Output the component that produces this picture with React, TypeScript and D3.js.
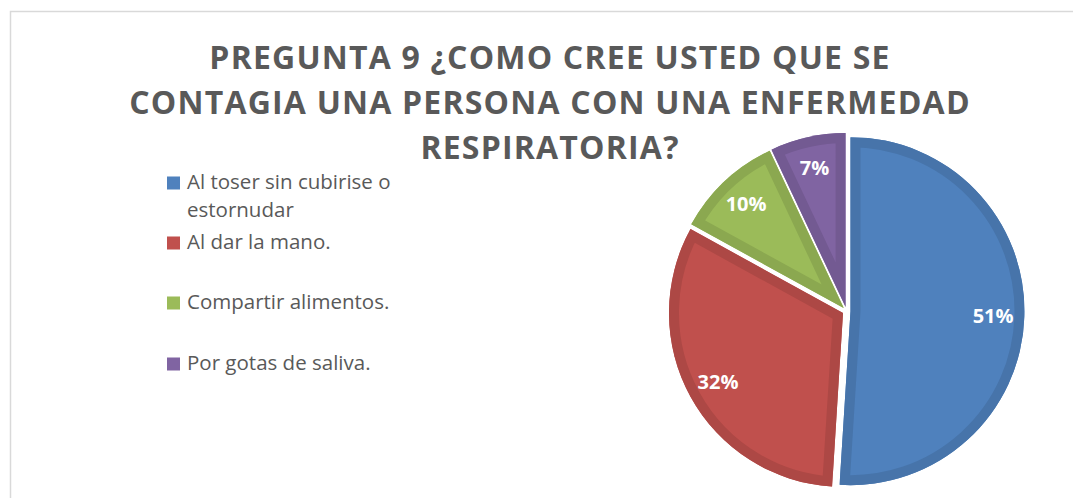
import React from "react";
import * as d3 from "d3";

const categories = [
  "Al toser sin cubirise o estornudar",
  "Al dar la mano.",
  "Compartir alimentos.",
  "Por gotas de saliva.",
];
const legendLines = [
  ["Al toser sin cubirise o", "estornudar"],
  ["Al dar la mano."],
  ["Compartir alimentos."],
  ["Por gotas de saliva."],
];
const values = [51, 32, 10, 7];
const colors = ["#4F81BD", "#C0504D", "#9BBB59", "#8064A2"];
const titleLines = [
  "PREGUNTA 9 ¿COMO CREE USTED QUE SE",
  "CONTAGIA UNA PERSONA CON UNA ENFERMEDAD",
  "RESPIRATORIA?",
];

const W = 1073;
const H = 498;

export default function App() {
  const cx = 846.5;
  const cy = 311;
  const r = 174;
  const explode = 4;
  const pie = d3.pie<number>().sort(null).value((d) => d)(values);
  const arc = d3.arc<d3.PieArcDatum<number>>().innerRadius(0).outerRadius(r);
  const labelArc = d3
    .arc<d3.PieArcDatum<number>>()
    .innerRadius(r * 0.82)
    .outerRadius(r * 0.82);
  const total = d3.sum(values);
  const fmt = d3.format(".0%");

  const legendY = [189, 249, 309, 370];

  return (
    <svg
      width={W}
      height={H}
      style={{ position: "absolute", left: 0, top: 0, background: "#fff" }}
    >
      <rect x={0} y={0} width={W} height={H} fill="#fff" />
      <rect
        x={10.5}
        y={11.5}
        width={W + 20}
        height={H + 20}
        fill="#fff"
        stroke="#D9D9D9"
        strokeWidth={1.5}
      />
      <g
        fontFamily="'Open Sans', sans-serif"
        fontWeight="bold"
        fontSize={32}
        fill="#595959"
        textAnchor="middle"
        letterSpacing={1.2}
      >
        {titleLines.map((t, i) => (
          <text key={i} x={550} y={69 + i * 45}>
            {t}
          </text>
        ))}
      </g>
      <defs>
        {pie.map((p, i) => (
          <clipPath key={i} id={`clip${i}`}>
            <path d={arc(p) || ""} />
          </clipPath>
        ))}
      </defs>
      {pie.map((p, i) => {
        const mid = (p.startAngle + p.endAngle) / 2;
        const dx = explode * Math.sin(mid);
        const dy = -explode * Math.cos(mid);
        const [lx, ly] = labelArc.centroid(p);
        const border = d3.color(colors[i])!.darker(0.3).formatHex();
        return (
          <g key={i} transform={`translate(${cx + dx},${cy + dy})`}>
            <path d={arc(p) || ""} fill={colors[i]} />
            <path
              d={arc(p) || ""}
              fill="none"
              stroke={border}
              strokeWidth={20}
              clipPath={`url(#clip${i})`}
            />
            <text
              x={lx}
              y={ly}
              dy="0.35em"
              textAnchor="middle"
              fontFamily="'Open Sans', sans-serif"
              fontWeight="bold"
              fontSize={20}
              fill="#fff"
            >
              {fmt(values[i] / total)}
            </text>
          </g>
        );
      })}
      <g fontFamily="'Open Sans', sans-serif" fontSize={20.5} fill="#595959">
        {categories.map((c, i) => (
          <g key={c}>
            <rect
              x={167}
              y={legendY[i] - 12.5}
              width={13}
              height={13}
              fill={colors[i]}
            />
            {legendLines[i].map((ln, j) => (
              <text key={j} x={187} y={legendY[i] + j * 28}>
                {ln}
              </text>
            ))}
          </g>
        ))}
      </g>
    </svg>
  );
}
